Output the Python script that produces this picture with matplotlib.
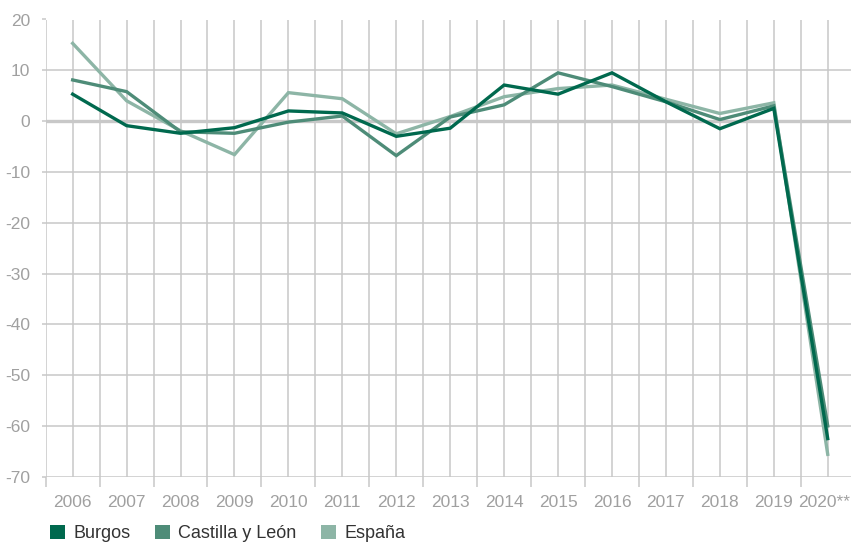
import numpy as np
import matplotlib
matplotlib.use('Agg')
import matplotlib.pyplot as plt
import matplotlib.transforms as mtransforms
from matplotlib.patches import Patch

plt.rcParams['font.family'] = ['Liberation Sans', 'DejaVu Sans']
plt.rcParams['axes.unicode_minus'] = False

# data (% variation)
years = ['2006', '2007', '2008', '2009', '2010', '2011', '2012', '2013',
         '2014', '2015', '2016', '2017', '2018', '2019', '2020**']
burgos = [5.3, -0.9, -2.4, -1.3, 2.0, 1.6, -3.0, -1.4, 7.1, 5.3, 9.5, 3.8, -1.5, 2.5, -62.5]
castilla = [8.1, 5.8, -2.1, -2.4, -0.2, 1.0, -6.8, 0.8, 3.2, 9.5, 6.8, 3.8, 0.3, 3.0, -60.0]
espana = [15.3, 4.0, -1.9, -6.6, 5.6, 4.4, -2.5, 0.9, 4.8, 6.4, 7.1, 4.3, 1.5, 3.6, -65.6]

names = ['Burgos', 'Castilla y León', 'España']
colors = ['#00694E', '#4E8C78', '#8DB5A6']

W, H = 851, 543
fig = plt.figure(figsize=(W / 100, H / 100), dpi=100)
ax = fig.add_axes([45.7 / W, 1 - 476.7 / H, (854.7 - 45.7) / W, (476.7 - 19.5) / H])

grid_c = '#C8C8C8'
label_c = '#A0A0A0'

x = np.arange(len(years))
# lighter lines below, Burgos on top
ax.plot(x, espana, color=colors[2], lw=2.4, zorder=3, solid_joinstyle='miter')
ax.plot(x, castilla, color=colors[1], lw=2.4, zorder=4, solid_joinstyle='miter')
ax.plot(x, burgos, color=colors[0], lw=2.4, zorder=5, solid_joinstyle='miter')

ax.axhline(0, color=grid_c, lw=2.4, zorder=2)

ax.set_xlim(-0.5, len(years) - 0.5)
ax.set_ylim(-70, 20)
ax.set_yticks(np.arange(-70, 21, 10))
ax.set_xticks(x)
ax.set_xticklabels(years)
ax.set_xticks(np.arange(-0.5, len(years), 1.0), minor=True)

ax.grid(True, which='major', color=grid_c, lw=1.1, zorder=1)
ax.grid(True, which='minor', axis='x', color=grid_c, lw=1.1, zorder=1)
for s in ax.spines.values():
    s.set_visible(False)

ax.tick_params(axis='x', which='major', length=0, pad=13, labelsize=12.5, labelcolor=label_c)
ax.tick_params(axis='x', which='minor', length=7, width=1.1, color=grid_c)
ax.tick_params(axis='y', length=3, width=1.1, color=grid_c, pad=8, labelsize=12.5, labelcolor=label_c)

# last label sits at the right edge of the figure, nudge it inside
last = ax.get_xticklabels()[-1]
last.set_transform(last.get_transform() + mtransforms.ScaledTranslation(-4 / 100, 0, fig.dpi_scale_trans))

handles = [Patch(facecolor=c, edgecolor='none') for c in colors]
fig.legend(handles, names, loc='upper left', bbox_to_anchor=(50 / W, 1 - 525 / H),
           ncol=3, frameon=False, fontsize=13, handlelength=0.85, handleheight=0.85,
           handletextpad=0.45, columnspacing=1.35, borderpad=0, borderaxespad=0,
           labelcolor='#333333')

fig.savefig('out.png', dpi=100)
